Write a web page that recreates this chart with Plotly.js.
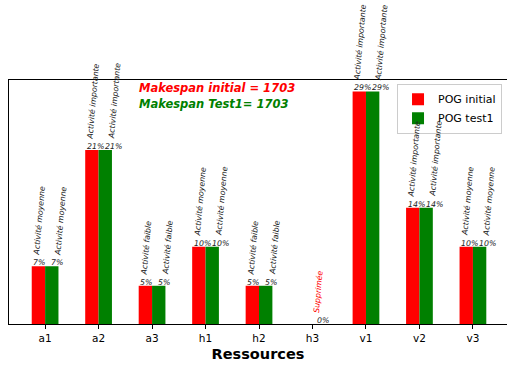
<!DOCTYPE html>
<html><head><meta charset="utf-8">
<script src="https://cdn.plot.ly/plotly-3.0.1.min.js"></script>
<style>html,body{margin:0;padding:0;background:#fff}#c{width:507px;height:365px}</style>
</head><body><div id="c"></div>
<script>
const categories = ["a1","a2","a3","h1","h2","h3","v1","v2","v3"];
const pogInitial = [7.1, 21.4, 4.7, 9.5, 4.7, 0, 28.6, 14.3, 9.5];
const pogTest1   = [7.1, 21.4, 4.7, 9.5, 4.7, 0, 28.6, 14.3, 9.5];
const pctInitial = ["7%","21%","5%","10%","5%","0%","29%","14%","10%"];
const pctTest1   = ["7%","21%","5%","10%","5%","0%","29%","14%","10%"];
const activity   = ["Activité moyenne","Activité importante","Activité faible","Activité moyenne","Activité faible","Supprimée","Activité importante","Activité importante","Activité moyenne"];
const seriesNames = ["POG initial","POG test1"];
const makespanInitial = 1703;
const makespanTest1 = 1703;

const font = "DejaVu Sans, sans-serif";
const traces = [
  {type:"bar", x:categories, y:pogInitial, name:seriesNames[0], marker:{color:"#ff0000"}},
  {type:"bar", x:categories, y:pogTest1, name:seriesNames[1], marker:{color:"#008000"}}
];
const ann = [];
const small = 7.8;
categories.forEach((c,i)=>{
  if (pogInitial[i] === 0 && pogTest1[i] === 0) {
    ann.push({x:i+0.04, y:0, xref:"x", yref:"y", text:"<i>"+pctInitial[i]+"</i>", showarrow:false,
      xanchor:"left", yanchor:"bottom", yshift:-3, font:{family:font,size:small,color:"#222"}});
    ann.push({x:i+0.1, y:0, xref:"x", yref:"y", text:"<i>"+activity[i]+"</i>", showarrow:false,
      textangle:-85, xanchor:"center", yanchor:"bottom", yshift:9, font:{family:font,size:small,color:"#ff0000"}});
    return;
  }
  ann.push({x:i-0.26, y:pogInitial[i], xref:"x", yref:"y", text:"<i>"+pctInitial[i]+"</i>", showarrow:false,
    xanchor:"left", yanchor:"bottom", yshift:-3, font:{family:font,size:small,color:"#222"}});
  ann.push({x:i+0.08, y:pogTest1[i], xref:"x", yref:"y", text:"<i>"+pctTest1[i]+"</i>", showarrow:false,
    xanchor:"left", yanchor:"bottom", yshift:-3, font:{family:font,size:small,color:"#222"}});
  ann.push({x:i-0.1, y:pogInitial[i], xref:"x", yref:"y", text:"<i>"+activity[i]+"</i>", showarrow:false,
    textangle:-85, xanchor:"center", yanchor:"bottom", yshift:8, font:{family:font,size:small,color:"#222"}});
  ann.push({x:i+0.3, y:pogTest1[i], xref:"x", yref:"y", text:"<i>"+activity[i]+"</i>", showarrow:false,
    textangle:-85, xanchor:"center", yanchor:"bottom", yshift:8, font:{family:font,size:small,color:"#222"}});
});
ann.push({x:0.258, y:0.967, xref:"paper", yref:"paper", xanchor:"left", yanchor:"middle", showarrow:false,
  text:"<b><i>Makespan initial = "+makespanInitial+"</i></b>", font:{family:font,size:11.5,color:"#ff0000"}});
ann.push({x:0.258, y:0.902, xref:"paper", yref:"paper", xanchor:"left", yanchor:"middle", showarrow:false,
  text:"<b><i>Makespan Test1= "+makespanTest1+"</i></b>", font:{family:font,size:11.5,color:"#008000"}});

const layout = {
  width:507, height:365,
  margin:{l:9, r:0, t:80, b:41},
  paper_bgcolor:"#fff", plot_bgcolor:"#fff",
  barmode:"group", bargap:0.5, bargroupgap:0,
  showlegend:true,
  legend:{x:0.99, xanchor:"right", y:0.985, yanchor:"top", bgcolor:"rgba(255,255,255,0.8)",
    bordercolor:"#cccccc", borderwidth:1, font:{family:font,size:11,color:"#000"}, tracegroupgap:0,
    itemwidth:30},
  xaxis:{type:"category", range:[-0.675, 8.637], ticks:"outside", ticklen:4, tickcolor:"#000",
    showline:true, linecolor:"#000", linewidth:1, mirror:true, showgrid:false, zeroline:false,
    tickfont:{family:font,size:10.5,color:"#000"},
    title:{text:"<b>Ressources</b>", font:{family:font,size:14.5,color:"#000"}, standoff:6}},
  yaxis:{range:[0,30], showticklabels:false, ticks:"", showgrid:false, zeroline:false,
    showline:true, linecolor:"#000", linewidth:1, mirror:true},
  annotations:ann
};
Plotly.newPlot("c", traces, layout, {displayModeBar:false, staticPlot:true});
</script></body></html>
